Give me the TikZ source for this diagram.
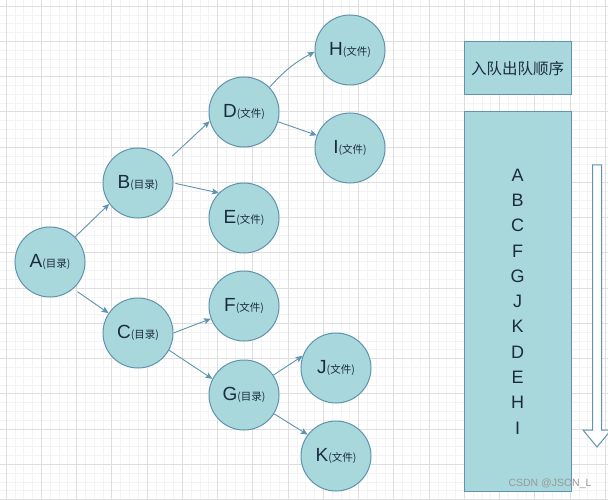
\documentclass[tikz,border=0pt]{standalone}
\usepackage{fontspec}
\setmainfont{Liberation Sans}
\newfontfamily\cjk{Noto Sans CJK SC}
\usepackage{tikz}
\usetikzlibrary{arrows.meta}
\definecolor{nodefill}{HTML}{A8D8DB}
\definecolor{nodeline}{HTML}{6093B0}
\definecolor{txt}{HTML}{1C2B40}
\definecolor{gridminor}{HTML}{F3F3F3}
\definecolor{gridmajor}{HTML}{DEDEDE}
\newcommand{\lbl}[2]{{\fontsize{19}{19}\selectfont #1}{\cjk\fontsize{10.5}{11}\selectfont (#2)}}

\begin{document}
\begin{tikzpicture}[x=1pt,y=-1pt,
  entry/.style={circle,draw=nodeline,fill=nodefill,line width=1pt,minimum size=70pt,inner sep=0pt,text=txt},
  panel/.style={rectangle,draw=nodeline,fill=nodefill,line width=1pt,inner sep=0pt,text=txt,minimum width=107pt},
  link/.style={draw=nodeline,line width=0.9pt},
  >={Stealth[length=7pt,width=6pt,inset=1.5pt]}]
  \useasboundingbox (0,0) rectangle (608,500);
  \fill[white] (0,0) rectangle (608,500);
  \foreach \i in {-1,...,70} {\draw[gridminor,line width=0.6pt] ({6+\i*8.8125},0) -- ({6+\i*8.8125},500);}
  \foreach \i in {-1,...,57} {\draw[gridminor,line width=0.6pt] (0,{6+\i*8.8125}) -- (608,{6+\i*8.8125});}
  \foreach \i in {0,...,17} {\draw[gridmajor,line width=0.7pt] ({6+\i*35.25},0) -- ({6+\i*35.25},500);}
  \foreach \i in {0,...,14} {\draw[gridmajor,line width=0.7pt] (0,{6+\i*35.25}) -- (608,{6+\i*35.25});}

  \node[entry] (A) at (50,262)  {\lbl{A}{目录}};
  \node[entry] (B) at (138,183) {\lbl{B}{目录}};
  \node[entry] (C) at (138,333) {\lbl{C}{目录}};
  \node[entry] (D) at (244,112) {\lbl{D}{文件}};
  \node[entry] (E) at (244,218) {\lbl{E}{文件}};
  \node[entry] (F) at (244,306) {\lbl{F}{文件}};
  \node[entry] (G) at (244,395) {\lbl{G}{目录}};
  \node[entry] (H) at (350,50)  {\lbl{H}{文件}};
  \node[entry] (I) at (350,148) {\lbl{I}{文件}};
  \node[entry] (J) at (336,368) {\lbl{J}{文件}};
  \node[entry] (K) at (336,456) {\lbl{K}{文件}};

  \draw[->,link] (A.45) -- (B.216);
  \draw[->,link,shorten <=8pt] (B.37) -- (D.195);
  \draw[->,link,shorten <=2pt] (B.0) -- (E.135);
  \draw[->,link] (D.44) to[bend left=10] (H.183);
  \draw[->,link] (D.344) -- (I.159);
  \draw[->,link,shorten <=5pt] (A.311) -- (C.146);
  \draw[->,link] (C.0) -- (F.201);
  \draw[->,link] (C.331) -- (G.153);
  \draw[->,link] (G.34) -- (J.160);
  \draw[->,link] (G.328) -- (K.143);

  \node[panel,minimum height=53pt] (title) at (517.5,68.5) {\cjk\fontsize{15.5}{16}\selectfont 入队出队顺序};
  \node[panel,minimum height=379pt,align=center,font=\fontsize{18}{25.3}\selectfont] (order) at (517.5,301.5)
    {A\\B\\C\\F\\G\\J\\K\\D\\E\\H\\I};

  \draw[nodeline,fill=white,line width=1pt] (592.5,165) -- (601.5,165) -- (601.5,430) -- (611,430)
    -- (597,447) -- (583,430) -- (592.5,430) -- cycle;

  \node[text=gray!80,font=\fontsize{10.5}{11}\selectfont] (mark) at (550,484) {CSDN @JSON\_L};
\end{tikzpicture}
\end{document}
